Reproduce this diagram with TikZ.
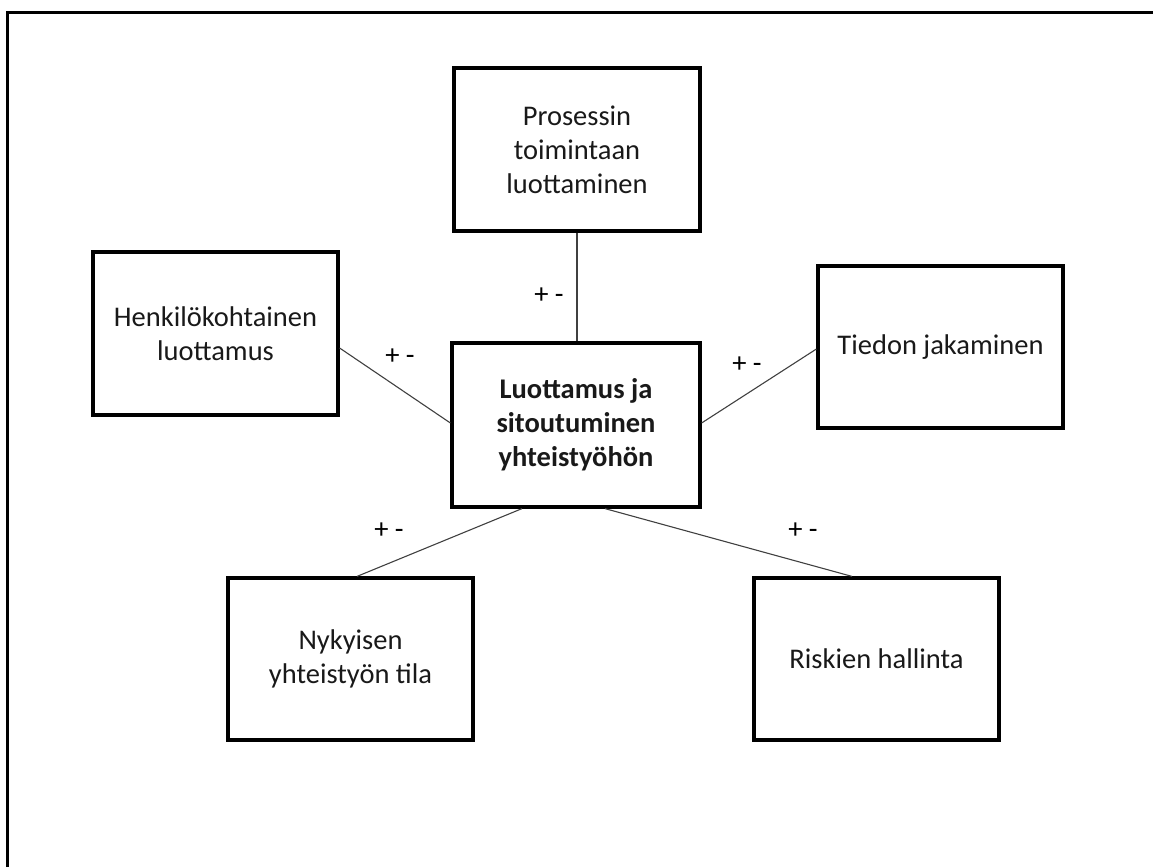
\documentclass[tikz,border=0pt]{standalone}
\usepackage{fontspec}
\setmainfont{Carlito}
\usetikzlibrary{calc}
\tikzset{
  box/.style={draw=black, line width=3.2pt, rectangle, align=center, inner sep=0pt,
    minimum width=245pt, minimum height=162pt, font=\fontsize{28.5}{34}\selectfont, text=black!90},
  link/.style={draw=black!75, line width=1.1pt},
  sign/.style={inner sep=0pt, font=\fontsize{28.5}{34}\selectfont, text=black}
}
\begin{document}
\begin{tikzpicture}[x=1pt, y=-1pt]
\useasboundingbox (0,0) rectangle (1153,867);
% outer frame (clipped on right and bottom)
\draw[black!45, line width=1.2pt] (8.8,867) -- (8.8,13.8) -- (1153,13.8);
\draw[black, line width=2.8pt] (7.2,867) -- (7.2,12.2) -- (1153,12.2);
% boxes
\node[box, minimum width=246pt, minimum height=163pt] (pro) at (577,149.5) {Prosessin\\toimintaan\\luottaminen};
\node[box, minimum width=248pt, minimum height=164pt, font=\fontsize{28.5}{34}\selectfont\bfseries] (cen) at (576,425) {Luottamus ja\\sitoutuminen\\yhteistyöhön};
\node[box, minimum height=163pt] (hen) at (215.5,333.5) {Henkilökohtainen\\luottamus};
\node[box] (tie) at (940.5,347) {Tiedon jakaminen};
\node[box] (nyk) at (350.5,659) {Nykyisen\\yhteistyön tila};
\node[box] (ris) at (876.5,659) {Riskien hallinta};
% connectors
\draw[link] (pro.south) -- (pro.south |- cen.north);
\draw[link] ($(hen.east)+(0,14.5)$) -- ($(cen.west)+(0,-2)$);
\draw[link] ($(cen.east)+(0,-2)$) -- ($(tie.west)+(0,2)$);
\draw[link] ($(cen.south)+(-54,0)$) -- ($(nyk.north)+(6.5,0)$);
\draw[link] ($(cen.south)+(29,0)$) -- ($(ris.north)+(-24.5,0)$);
% labels
\node[sign] (s1) at (549,296) {+ -};
\node[sign] (s2) at (400,357) {+ -};
\node[sign] (s3) at (747,365) {+ -};
\node[sign] (s4) at (389,531) {+ -};
\node[sign] (s5) at (803,531) {+ -};
\end{tikzpicture}
\end{document}
